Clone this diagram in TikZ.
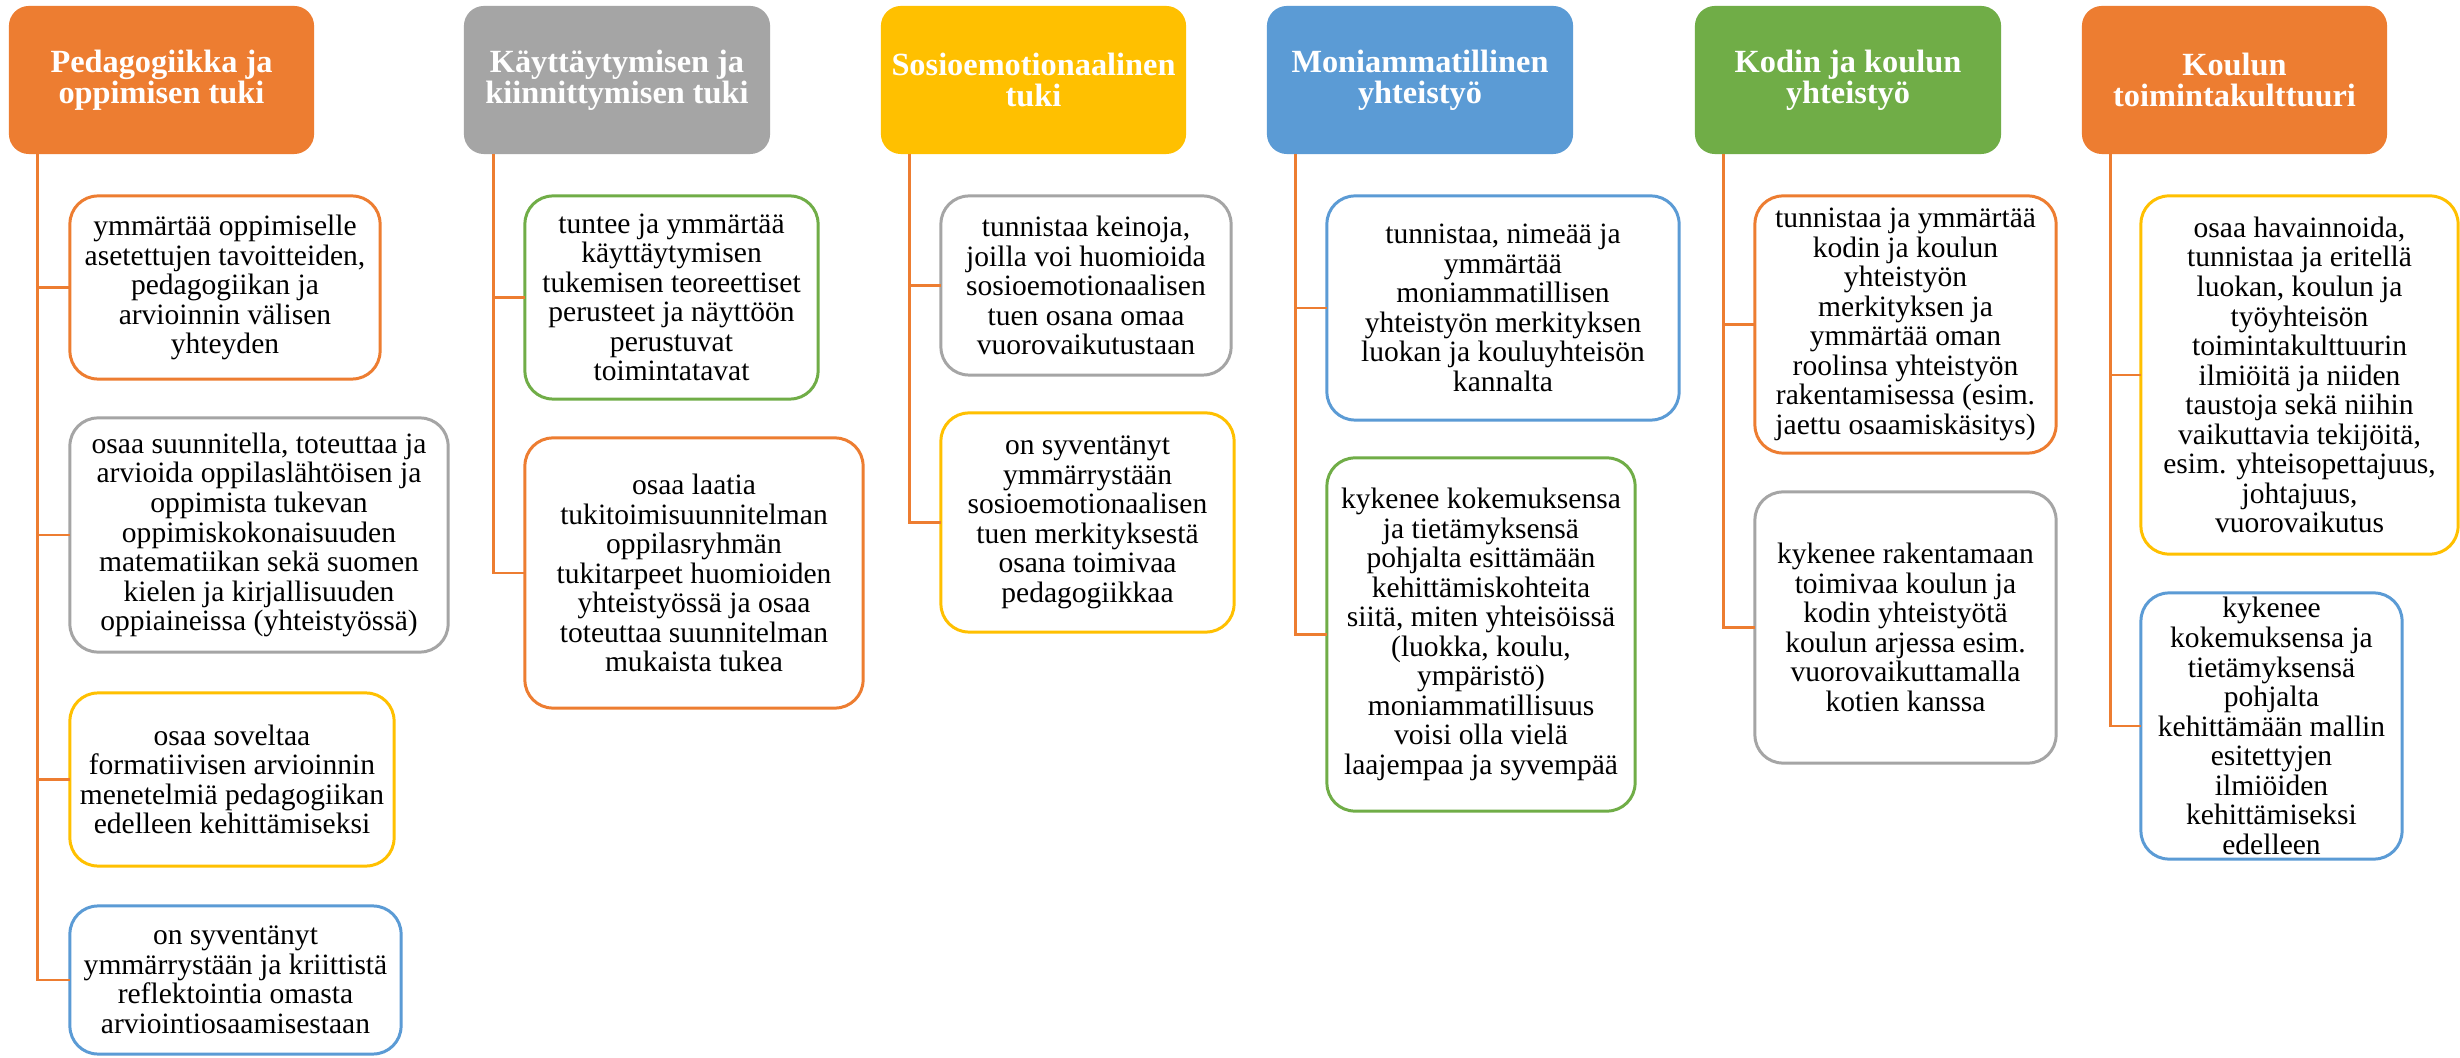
\documentclass[tikz,border=0pt]{standalone}
\usepackage{fontspec}
\setmainfont{Liberation Serif}
\definecolor{cOr}{HTML}{ED7D31}
\definecolor{cGr}{HTML}{A5A5A5}
\definecolor{cYe}{HTML}{FFC000}
\definecolor{cBl}{HTML}{5B9BD5}
\definecolor{cGn}{HTML}{70AD47}
\begin{document}
\begin{tikzpicture}[x=0.01cm,y=-0.01cm,
  hdr/.style={rounded corners=0.2cm, inner sep=0pt, outer sep=0pt, align=center,
    text=white, minimum height=1.48cm, font=\fontsize{9.2}{8.8}\selectfont\bfseries},
  cbox/.style={draw, line width=0.85pt, fill=white, rounded corners=0.28cm, inner sep=0pt,
    outer sep=0pt, align=center, font=\fontsize{8.4}{8.4}\selectfont},
  conn/.style={draw=cOr, line width=0.85pt}]
\fill[white] (0,0) rectangle (2460,1058);
\useasboundingbox (0,0) rectangle (2460,1058);

% headers
\node[hdr, fill=cOr, minimum width=3.05cm] (h1) at (161.5,80) {Pedagogiikka ja\\oppimisen tuki};
\node[hdr, fill=cGr, minimum width=3.06cm] (h2) at (617,80) {Käyttäytymisen ja\\kiinnittymisen tuki};
\node[hdr, fill=cYe, minimum width=3.05cm] (h3) at (1033.5,80) {Sosioemotionaalinen\\tuki};
\node[hdr, fill=cBl, minimum width=3.06cm] (h4) at (1420,80) {Moniammatillinen\\yhteistyö};
\node[hdr, fill=cGn, minimum width=3.06cm] (h5) at (1848,80) {Kodin ja koulun\\yhteistyö};
\node[hdr, fill=cOr, minimum width=3.05cm] (h6) at (2234.5,80) {Koulun\\toimintakulttuuri};

% column 1
\node[cbox, draw=cOr, minimum width=3.10cm, minimum height=1.83cm] (b1a) at (225,287.5)
  {ymmärtää oppimiselle\\asetettujen tavoitteiden,\\pedagogiikan ja\\arvioinnin välisen\\yhteyden};
\node[cbox, draw=cGr, minimum width=3.78cm, minimum height=2.34cm] (b1b) at (259,535)
  {osaa suunnitella, toteuttaa ja\\arvioida oppilaslähtöisen ja\\oppimista tukevan\\oppimiskokonaisuuden\\matematiikan sekä suomen\\kielen ja kirjallisuuden\\oppiaineissa (yhteistyössä)};
\node[cbox, draw=cYe, minimum width=3.24cm, minimum height=1.73cm] (b1c) at (232,779.5)
  {osaa soveltaa\\formatiivisen arvioinnin\\menetelmiä pedagogiikan\\edelleen kehittämiseksi};
\node[cbox, draw=cBl, minimum width=3.31cm, minimum height=1.48cm] (b1d) at (235.5,980)
  {on syventänyt\\ymmärrystään ja kriittistä\\reflektointia omasta\\arviointiosaamisestaan};

% column 2
\node[cbox, draw=cGn, minimum width=2.93cm, minimum height=2.03cm] (b2a) at (671.5,297.5)
  {tuntee ja ymmärtää\\käyttäytymisen\\tukemisen teoreettiset\\perusteet ja näyttöön\\perustuvat\\toimintatavat};
\node[cbox, draw=cOr, minimum width=3.38cm, minimum height=2.70cm] (b2b) at (694,573)
  {osaa laatia\\tukitoimisuunnitelman\\oppilasryhmän\\tukitarpeet huomioiden\\yhteistyössä ja osaa\\toteuttaa suunnitelman\\mukaista tukea};

% column 3
\node[cbox, draw=cGr, minimum width=2.90cm, minimum height=1.79cm] (b3a) at (1086,285.5)
  {tunnistaa keinoja,\\joilla voi huomioida\\sosioemotionaalisen\\tuen osana omaa\\vuorovaikutustaan};
\node[cbox, draw=cYe, minimum width=2.93cm, minimum height=2.19cm] (b3b) at (1087.5,522.5)
  {on syventänyt\\ymmärrystään\\sosioemotionaalisen\\tuen merkityksestä\\osana toimivaa\\pedagogiikkaa};

% column 4
\node[cbox, draw=cBl, minimum width=3.52cm, minimum height=2.24cm] (b4a) at (1503,308)
  {tunnistaa, nimeää ja\\ymmärtää\\moniammatillisen\\yhteistyön merkityksen\\luokan ja kouluyhteisön\\kannalta};
\node[cbox, draw=cGn, minimum width=3.08cm, minimum height=3.53cm] (b4b) at (1481,634.5)
  {kykenee kokemuksensa\\ja tietämyksensä\\pohjalta esittämään\\kehittämiskohteita\\siitä, miten yhteisöissä\\(luokka, koulu,\\ympäristö)\\moniammatillisuus\\voisi olla vielä\\laajempaa ja syvempää};

% column 5
\node[cbox, draw=cOr, minimum width=3.01cm, minimum height=2.57cm] (b5a) at (1905.5,324.5)
  {tunnistaa ja ymmärtää\\kodin ja koulun\\yhteistyön\\merkityksen ja\\ymmärtää oman\\roolinsa yhteistyön\\rakentamisessa (esim.\\jaettu osaamiskäsitys)};
\node[cbox, draw=cGr, minimum width=3.01cm, minimum height=2.71cm] (b5b) at (1905.5,627.5)
  {kykenee rakentamaan\\toimivaa koulun ja\\kodin yhteistyötä\\koulun arjessa esim.\\vuorovaikuttamalla\\kotien kanssa};

% column 6
\node[cbox, draw=cYe, minimum width=3.17cm, minimum height=3.58cm] (b6a) at (2299.5,375)
  {osaa havainnoida,\\tunnistaa ja eritellä\\luokan, koulun ja\\työyhteisön\\toimintakulttuurin\\ilmiöitä ja niiden\\taustoja sekä niihin\\vaikuttavia tekijöitä,\\esim. yhteisopettajuus,\\johtajuus,\\vuorovaikutus};
\node[cbox, draw=cBl, minimum width=2.61cm, minimum height=2.66cm] (b6b) at (2271.5,726)
  {kykenee\\kokemuksensa ja\\tietämyksensä\\pohjalta\\kehittämään mallin\\esitettyjen\\ilmiöiden\\kehittämiseksi\\edelleen};

% trunk tops
\coordinate (t1) at ([xshift=0.29cm]h1.south west);
\coordinate (t2) at ([xshift=0.30cm]h2.south west);
\coordinate (t3) at ([xshift=0.29cm]h3.south west);
\coordinate (t4) at ([xshift=0.29cm]h4.south west);
\coordinate (t5) at ([xshift=0.29cm]h5.south west);
\coordinate (t6) at ([xshift=0.29cm]h6.south west);

% connectors
\draw[conn] (t1) |- (b1a.west);
\draw[conn] (t1) |- (b1b.west);
\draw[conn] (t1) |- (b1c.west);
\draw[conn] (t1) |- (b1d.west);
\draw[conn] (t2) |- (b2a.west);
\draw[conn] (t2) |- (b2b.west);
\draw[conn] (t3) |- (b3a.west);
\draw[conn] (t3) |- (b3b.west);
\draw[conn] (t4) |- (b4a.west);
\draw[conn] (t4) |- (b4b.west);
\draw[conn] (t5) |- (b5a.west);
\draw[conn] (t5) |- (b5b.west);
\draw[conn] (t6) |- (b6a.west);
\draw[conn] (t6) |- (b6b.west);
\end{tikzpicture}
\end{document}
